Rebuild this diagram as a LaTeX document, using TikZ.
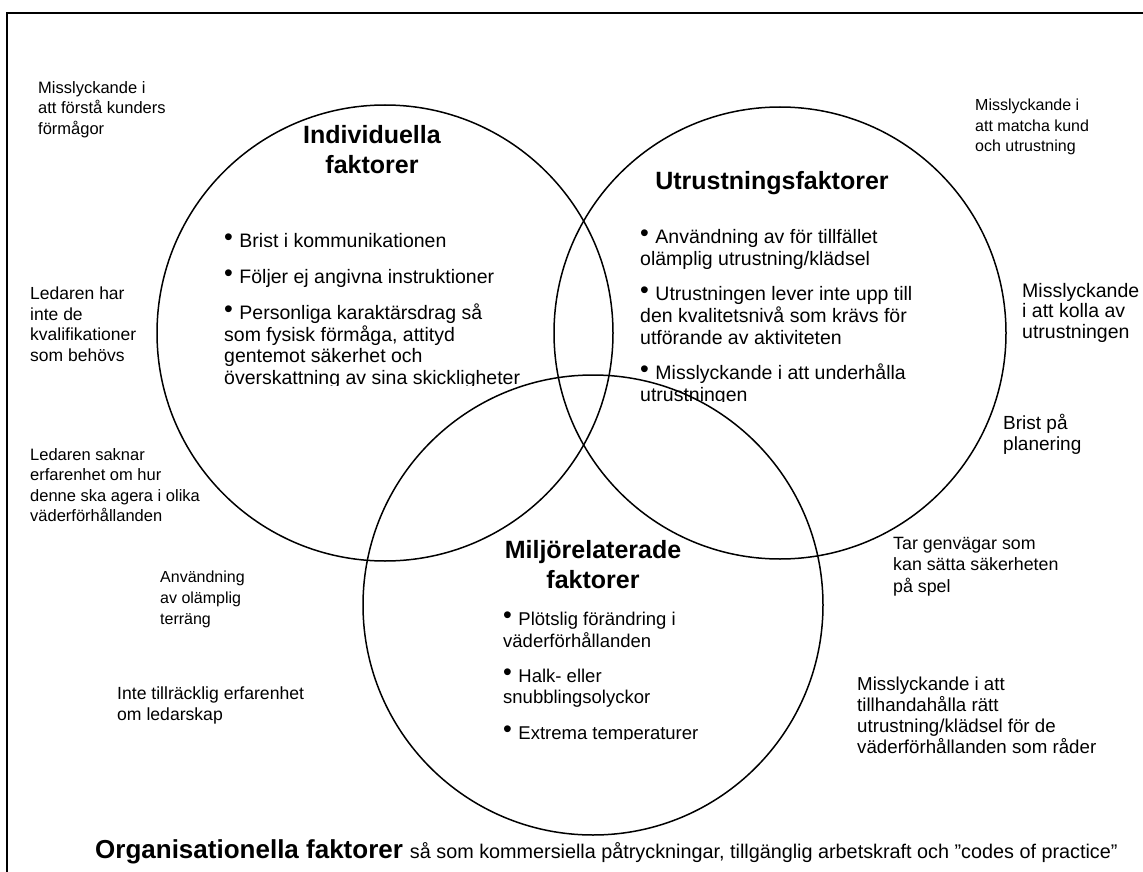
\documentclass[tikz,border=0pt]{standalone}
\usepackage{fontspec}
\setmainfont{Liberation Sans}
\newcommand\bul{\raisebox{2pt}{\fontsize{25}{25}\selectfont •}\hspace{6.5pt}}
\tikzset{
  circ/.style={line width=1.5pt},
  lbl/.style={anchor=north west, inner sep=0pt, align=left},
  ttl/.style={inner sep=0pt, align=center, font=\fontsize{25}{30}\selectfont\bfseries},
  blt/.style={anchor=north west, inner sep=0pt, align=left},
}
\begin{document}
\begin{tikzpicture}[x=1pt,y=-1pt]
\useasboundingbox (0,0) rectangle (1143,872);
\clip (0,0) rectangle (1143,872);
\draw[line width=2.5pt] (7,13) rectangle (1170,900);
% circles
\node[circ, draw, circle, minimum size=456pt, inner sep=0pt] (ind) at (385,333) {};
\node[circ, draw, circle, minimum size=452pt, inner sep=0pt] (utr) at (780,333) {};
\node[circ, draw, circle, minimum size=460pt, inner sep=0pt] (mil) at (593,605) {};
% titles
\node[ttl] (tind) at (372,150) {Individuella\\faktorer};
\node[ttl] (tutr) at (772,183) {Utrustningsfaktorer};
\node[ttl] (tmil) at (593,565) {Miljörelaterade\\faktorer};
% bullet blocks
\begin{scope}
\clip (200,220) rectangle (570,385);
\node[blt, font=\fontsize{19.5}{21.5}\selectfont] (bind) at (224,233) {\bul Brist i kommunikationen\\[14.5pt]\bul Följer ej angivna instruktioner\\[15pt]\bul Personliga karaktärsdrag så\\som fysisk förmåga, attityd\\gentemot säkerhet och\\överskattning av sina skickligheter};
\end{scope}
\begin{scope}
\clip (620,215) rectangle (1000,401);
\node[blt, font=\fontsize{19.5}{22}\selectfont] (butr) at (640,229) {\bul Användning av för tillfället\\olämplig utrustning/klädsel\\[13pt]\bul Utrustningen lever inte upp till\\den kvalitetsnivå som krävs för\\utförande av aktiviteten\\[13pt]\bul Misslyckande i att underhålla\\utrustningen};
\end{scope}
\begin{scope}
\clip (490,600) rectangle (780,739);
\node[blt, font=\fontsize{18.5}{21.5}\selectfont] (bmil) at (503,612) {\bul Plötslig förändring i\\väderförhållanden\\[13.5pt]\bul Halk- eller\\snubblingsolyckor\\[14pt]\bul Extrema temperaturer};
\end{scope}
% outer labels
\node[lbl, font=\fontsize{16.5}{20.5}\selectfont] (l1) at (38,81) {Misslyckande i\\att förstå kunders\\förmågor};
\node[lbl, font=\fontsize{16}{20.5}\selectfont] (l2) at (975,99) {Misslyckande i\\att matcha kund\\och utrustning};
\node[lbl, font=\fontsize{17.5}{20.5}\selectfont] (l3) at (30,287) {Ledaren har\\inte de\\kvalifikationer\\som behövs};
\node[lbl, font=\fontsize{19.5}{20.5}\selectfont] (l4) at (1022,283) {Misslyckande\\i att kolla av\\utrustningen};
\node[lbl, font=\fontsize{16.5}{20.5}\selectfont] (l5) at (30,448) {Ledaren saknar\\erfarenhet om hur\\denne ska agera i olika\\väderförhållanden};
\node[lbl, font=\fontsize{19}{21}\selectfont] (l6) at (1003,414) {Brist på\\planering};
\node[lbl, font=\fontsize{16}{21}\selectfont] (l7) at (160,571) {Användning\\av olämplig\\terräng};
\node[lbl, font=\fontsize{17.8}{21.5}\selectfont] (l8) at (893,537) {Tar genvägar som\\kan sätta säkerheten\\på spel};
\node[lbl, font=\fontsize{17.6}{20.5}\selectfont] (l9) at (117,687) {Inte tillräcklig erfarenhet\\om ledarskap};
\node[lbl, font=\fontsize{18.7}{21}\selectfont] (l10) at (857,677) {Misslyckande i att\\tillhandahålla rätt\\utrustning/klädsel för de\\väderförhållanden som råder};
% bottom
\node[anchor=base west, inner sep=0pt] (org) at (95,858) {{\fontsize{26}{30}\selectfont\bfseries Organisationella faktorer}\hspace{7pt}{\fontsize{19.8}{22}\selectfont så som kommersiella påtryckningar, tillgänglig arbetskraft och ”codes of practice”}};
\end{tikzpicture}
\end{document}
